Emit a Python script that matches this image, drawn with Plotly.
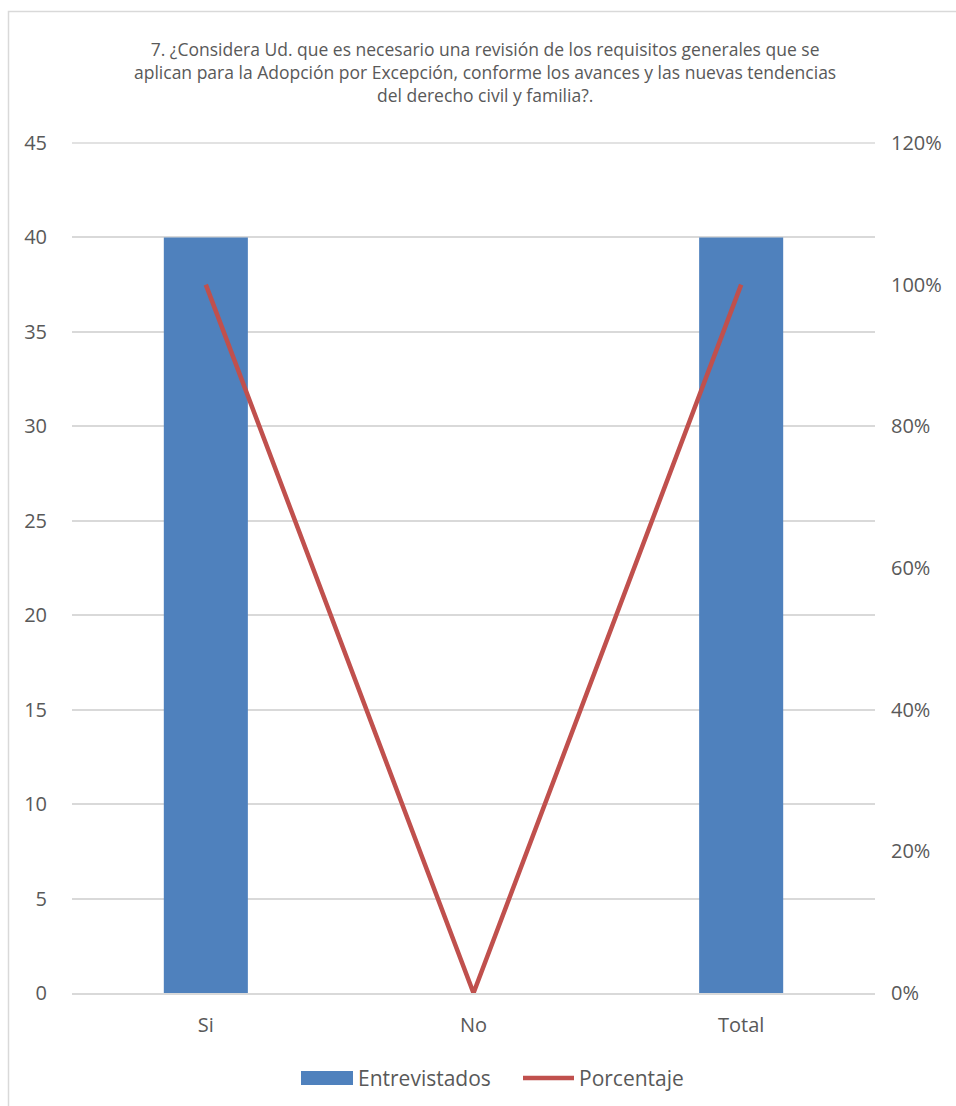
import plotly.graph_objects as go

# Survey question 7 results
categorias = ["Si", "No", "Total"]
entrevistados = [40, 0, 40]
porcentaje = [1.00, 0.00, 1.00]

titulo = ("7. ¿Considera Ud. que es necesario una revisión de los requisitos generales que se<br>"
          "aplican para la Adopción por Excepción, conforme los avances y las nuevas tendencias<br>"
          "del derecho civil y familia?.")

AZUL = "#4F81BD"
ROJO = "#C0504D"
TEXTO = "#595959"
GRID = "#D9D9D9"
FUENTE = "Open Sans, Noto Sans, sans-serif"

W, H = 956, 1106
L, R, T, B = 72, 81, 143, 113

fig = go.Figure()
fig.add_trace(go.Bar(x=categorias, y=entrevistados, name="Entrevistados",
                     marker=dict(color=AZUL, line=dict(width=0)),
                     showlegend=False, yaxis="y"))
fig.add_trace(go.Scatter(x=categorias, y=porcentaje, name="Porcentaje",
                         mode="lines", line=dict(color=ROJO, width=4.5),
                         showlegend=False, yaxis="y2"))

fig.update_layout(
    width=W, height=H,
    margin=dict(l=L, r=R, t=T, b=B),
    paper_bgcolor="white", plot_bgcolor="white",
    font=dict(family=FUENTE, color=TEXTO, size=20),
    bargap=0.686,
    xaxis=dict(showgrid=False, showline=True, linecolor=GRID, linewidth=1.5,
               ticks="outside", ticklen=13, tickcolor="rgba(0,0,0,0)",
               tickfont=dict(size=20, color=TEXTO)),
    yaxis=dict(range=[0, 45], dtick=5, showgrid=True, gridcolor=GRID, gridwidth=1.5,
               zeroline=False, showline=False,
               ticks="outside", ticklen=20, tickcolor="rgba(0,0,0,0)",
               tickfont=dict(size=20, color=TEXTO)),
    yaxis2=dict(range=[0, 1.2], dtick=0.2, tickformat=".0%", overlaying="y", side="right",
                showgrid=False, zeroline=False, showline=False,
                ticks="outside", ticklen=11, tickcolor="rgba(0,0,0,0)",
                tickfont=dict(size=20, color=TEXTO)),
)


def px_x(v):
    return (v - L) / (W - L - R)


def px_y(v):
    return (H - B - v) / (H - T - B)


# Top gridline at the axis maximum
fig.add_shape(type="line", xref="paper", yref="paper", x0=0, x1=1, y0=1, y1=1,
              line=dict(color=GRID, width=1.5), layer="below")

# Title block
fig.add_annotation(text=titulo, xref="paper", yref="paper",
                   x=px_x(485), y=px_y(35),
                   xanchor="center", yanchor="top", showarrow=False,
                   align="center", font=dict(size=17.5, color=TEXTO, family=FUENTE))

# Outer chart border (left and top edges visible)
fig.add_shape(type="rect", xref="paper", yref="paper",
              x0=px_x(8.5), x1=px_x(W + 20), y0=px_y(H + 20), y1=px_y(11.5),
              line=dict(color=GRID, width=1.5), fillcolor="rgba(0,0,0,0)", layer="below")

# Legend
ly = 1078
fig.add_shape(type="rect", xref="paper", yref="paper",
              x0=px_x(301), x1=px_x(353), y0=px_y(ly + 7), y1=px_y(ly - 7),
              line=dict(width=0), fillcolor=AZUL)
fig.add_annotation(text="Entrevistados", xref="paper", yref="paper",
                   x=px_x(356), y=px_y(ly), xanchor="left", yanchor="middle",
                   showarrow=False, font=dict(size=21, color=TEXTO, family=FUENTE))
fig.add_shape(type="line", xref="paper", yref="paper",
              x0=px_x(523), x1=px_x(574), y0=px_y(ly), y1=px_y(ly),
              line=dict(color=ROJO, width=4.5))
fig.add_annotation(text="Porcentaje", xref="paper", yref="paper",
                   x=px_x(577), y=px_y(ly), xanchor="left", yanchor="middle",
                   showarrow=False, font=dict(size=21, color=TEXTO, family=FUENTE))

fig.write_html("out.html")
